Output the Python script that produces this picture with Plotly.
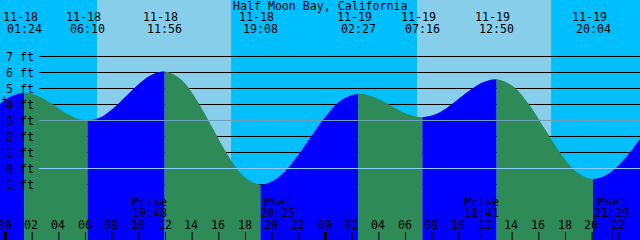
import plotly.graph_objects as go

# ---------------- data ----------------
title_text = "Half Moon Bay, California"
day_offset = {"11-18": 0, "11-19": 24}

# tide extremes
extreme_dates = ["11-18", "11-18", "11-18", "11-18", "11-19", "11-19", "11-19", "11-19"]
extreme_times = ["01:24", "06:10", "11:56", "19:08", "02:27", "07:16", "12:50", "20:04"]
extreme_ft = [4.73, 3.00, 6.06, -1.00, 4.67, 3.21, 5.58, -0.65]

# tide curve (hours after 11-18 00:00, height in ft)
curve_hours = [-0.42, 0.20, 1.40, 2.19, 2.99, 3.78, 4.58, 5.37, 6.17, 7.13, 8.09, 9.05,
               10.01, 10.97, 11.93, 13.13, 14.33, 15.53, 16.73, 17.93, 19.13, 20.35,
               21.57, 22.79, 24.01, 25.23, 26.45, 27.25, 28.06, 28.86, 29.66, 30.46,
               31.27, 32.20, 33.12, 34.05, 34.98, 35.91, 36.83, 38.04, 39.25, 40.45,
               41.66, 42.86, 44.07, 45.27, 46.47, 47.60]
curve_ft = [4.04, 4.42, 4.73, 4.61, 4.30, 3.87, 3.43, 3.12, 3.00, 3.21, 3.77, 4.53,
            5.30, 5.86, 6.06, 5.59, 4.30, 2.53, 0.77, -0.53, -1.00, -0.62,
            0.42, 1.84, 3.25, 4.29, 4.67, 4.57, 4.31, 3.94, 3.58, 3.31,
            3.21, 3.37, 3.80, 4.40, 4.99, 5.42, 5.58, 5.16, 4.02, 2.47,
            0.91, -0.23, -0.65, -0.30, 0.64, 1.88]

# sunrise / sunset
sun_dates = ["11-18", "11-18", "11-19", "11-19"]
sun_times = ["06:52", "16:55", "06:52", "16:55"]

# moonrise / moonset
moon_labels = ["Mrise", "Mset", "Mrise", "Mset"]
moon_dates = ["11-18", "11-18", "11-19", "11-19"]
moon_times = ["10:48", "20:25", "11:41", "21:29"]

# height levels (ft)
level_ft = [-1, 0, 1, 2, 3, 4, 5, 6, 7]
msl_ft = 3
datum_ft = 0

# hour ticks
tick_hours = [0, 2, 4, 6, 8, 10, 12, 14, 16, 18, 20, 22,
              24, 26, 28, 30, 32, 34, 36, 38, 40, 42, 44, 46, 48]
tick_labels = ["00", "02", "04", "06", "08", "10", "12", "14", "16", "18", "20", "22",
               "00", "02", "04", "06", "08", "10", "12", "14", "16", "18", "20", "22", "00"]
midnight_hours = [0, 24]

# ---------------- styling ----------------
W, H = 640, 240
X0 = -0.4125
X1 = X0 + 48.0
Y0 = (168.5 - 240) / 16.0
Y1 = 168.5 / 16.0

NIGHT = "#00BFFF"
DAY = "#87CEEB"
RISE = "#0000FF"
FALL = "#2E8B57"
MSL_COLOR = "#6CA0B8"
DATUM_COLOR = "#87CEFA"
FONT = dict(family="DejaVu Sans Mono", size=11.6, color="black")


def to_hours(date, time):
    hh, mm = time.split(":")
    return day_offset[date] + int(hh) + int(mm) / 60.0


def py(p):
    return 1 - p / H


ext_h = [to_hours(d, t) for d, t in zip(extreme_dates, extreme_times)]
sun_h = [to_hours(d, t) for d, t in zip(sun_dates, sun_times)]
moon_h = [to_hours(d, t) for d, t in zip(moon_dates, moon_times)]

fig = go.Figure()
layout_axes = {}

# tide fill, one clipped sub-plot per rising / falling stretch
n = len(ext_h)
is_high = [(extreme_ft[i] > extreme_ft[i + 1]) if i < n - 1 else (extreme_ft[i] > extreme_ft[i - 1])
           for i in range(n)]
bounds = [X0] + ext_h + [X1]
for j in range(len(bounds) - 1):
    a, b = max(bounds[j], X0), min(bounds[j + 1], X1)
    rising = is_high[j] if j < n else (not is_high[n - 1])
    color = RISE if rising else FALL
    ax_id = j + 2
    layout_axes[f"xaxis{ax_id}"] = dict(domain=[(a - X0) / 48.0, (b - X0) / 48.0],
                                        range=[a, b], anchor="y", visible=False,
                                        fixedrange=True)
    fig.add_trace(go.Scatter(x=[curve_hours[0], curve_hours[-1]], y=[Y0 - 5, Y0 - 5],
                             mode="lines", line=dict(width=0), xaxis=f"x{ax_id}", yaxis="y",
                             hoverinfo="skip", showlegend=False))
    fig.add_trace(go.Scatter(x=curve_hours, y=curve_ft, mode="lines",
                             line=dict(width=0, shape="spline", smoothing=1),
                             fill="tonexty", fillcolor=color, xaxis=f"x{ax_id}", yaxis="y",
                             hoverinfo="skip", showlegend=False))

shapes = []
# sky: night / day bands
sky_bounds = [X0] + sun_h + [X1]
for k in range(len(sky_bounds) - 1):
    shapes.append(dict(type="rect", xref="x", yref="paper", x0=sky_bounds[k], x1=sky_bounds[k + 1],
                       y0=0, y1=1, fillcolor=NIGHT if k % 2 == 0 else DAY,
                       line=dict(width=0), layer="below"))
# level lines behind the water
for lv in level_ft:
    shapes.append(dict(type="line", xref="paper", yref="y", x0=39 / W, x1=1, y0=lv, y1=lv,
                       line=dict(color="black", width=1), layer="below"))
# mean sea level and datum lines over everything
for lv, c in ((msl_ft, MSL_COLOR), (datum_ft, DATUM_COLOR)):
    shapes.append(dict(type="line", xref="paper", yref="y", x0=39 / W, x1=1, y0=lv, y1=lv,
                       line=dict(color=c, width=1), layer="above"))
# hour ticks
for h in tick_hours:
    shapes.append(dict(type="line", xref="x", yref="paper", x0=h, x1=h, y0=0, y1=8 / H,
                       line=dict(color="black", width=1), layer="above"))
for h in midnight_hours:
    shapes.append(dict(type="line", xref="x", yref="paper", x0=h, x1=h, y0=0, y1=8 / H,
                       line=dict(color="black", width=3), layer="above"))
for h in moon_h:
    shapes.append(dict(type="line", xref="x", yref="paper", x0=h, x1=h, y0=0, y1=8 / H,
                       line=dict(color="black", width=1), layer="above"))

ann = []
ann.append(dict(text=title_text, xref="paper", yref="paper", x=0.5, y=py(6),
                xanchor="center", yanchor="middle", showarrow=False, font=FONT))
for h, d, t in zip(ext_h, extreme_dates, extreme_times):
    ann.append(dict(text=d, xref="x", yref="paper", x=h, y=py(17), xshift=-4,
                    xanchor="center", yanchor="middle", showarrow=False, font=FONT))
    ann.append(dict(text=t, xref="x", yref="paper", x=h, y=py(29),
                    xanchor="center", yanchor="middle", showarrow=False, font=FONT))
for lv in level_ft:
    ann.append(dict(text=f"{lv} ft", xref="paper", yref="y", x=36 / W, y=lv,
                    xanchor="right", yanchor="middle", showarrow=False, font=FONT))
ann.append(dict(text="+", xref="paper", yref="paper", x=4.5 / W, y=py(100),
                xanchor="center", yanchor="middle", showarrow=False, font=FONT))
for h, lab, t in zip(moon_h, moon_labels, moon_times):
    ann.append(dict(text=lab, xref="x", yref="paper", x=h, y=py(201.5),
                    xanchor="center", yanchor="middle", showarrow=False, font=FONT))
    ann.append(dict(text=t, xref="x", yref="paper", x=h, y=py(213),
                    xanchor="center", yanchor="middle", showarrow=False, font=FONT))
for h, lab in zip(tick_hours, tick_labels):
    ann.append(dict(text=lab, xref="x", yref="paper", x=h, y=py(225), xshift=-1,
                    xanchor="center", yanchor="middle", showarrow=False, font=FONT))

fig.update_layout(
    width=W, height=H, margin=dict(l=0, r=0, t=0, b=0, pad=0),
    paper_bgcolor="white", plot_bgcolor="rgba(0,0,0,0)",
    showlegend=False,
    xaxis=dict(range=[X0, X1], domain=[0, 1], visible=False, fixedrange=True, anchor="y"),
    yaxis=dict(range=[Y0, Y1], domain=[0, 1], visible=False, fixedrange=True, anchor="x"),
    shapes=shapes, annotations=ann,
    **layout_axes,
)

fig.write_html("out.html", config={"displayModeBar": False})
